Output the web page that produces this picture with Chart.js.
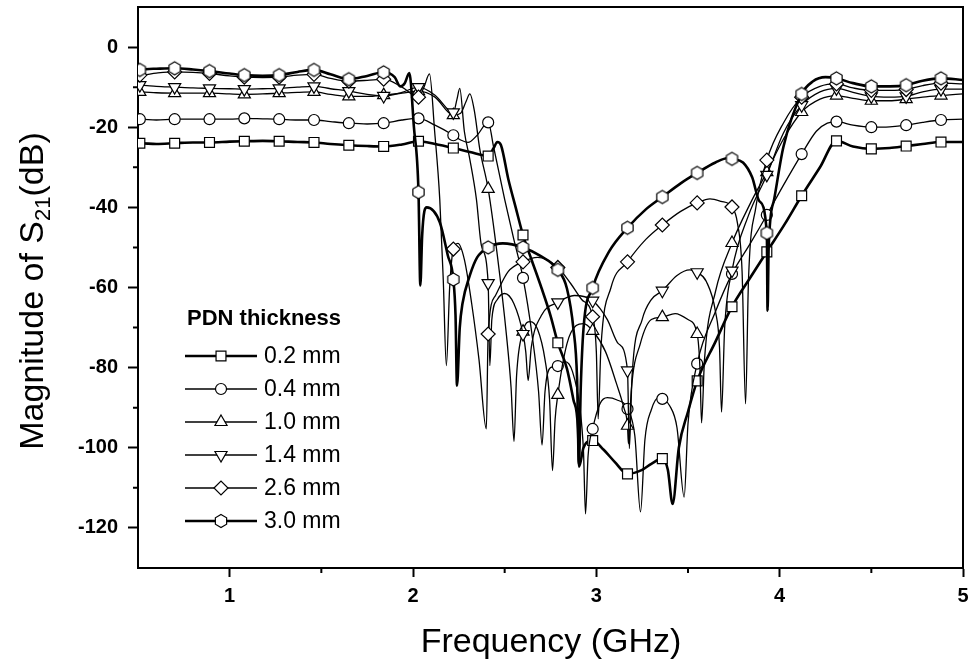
<!DOCTYPE html>
<html>
<head>
<meta charset="utf-8">
<script src="https://cdn.jsdelivr.net/npm/chart.js@4.4.1/dist/chart.umd.min.js"></script>
<style>
html,body{margin:0;padding:0;background:#fff;}
#c{display:block;}
</style>
</head>
<body>
<canvas id="c" width="972" height="669"></canvas>
<script>
// ---------------- data ----------------
const seriesLabels = ['0.2 mm', '0.4 mm', '1.0 mm', '1.4 mm', '2.6 mm', '3.0 mm'];
const legendTitle = 'PDN thickness';
const xTitle = 'Frequency (GHz)';
const yTitleMain = 'Magnitude of S';
const yTitleSub = '21';
const yTitleEnd = '(dB)';
const xTickValues = [1, 2, 3, 4, 5];
const yTickValues = [-120, -100, -80, -60, -40, -20, 0];
const xMinorValues = [1.5, 2.5, 3.5, 4.5];
const yMinorValues = [-110, -90, -70, -50, -30, -10];
// frequencies (GHz) where the symbols sit
const markerFreqs = [0.51, 0.7, 0.89, 1.08, 1.27, 1.46, 1.65, 1.84, 2.03, 2.22, 2.41, 2.6,
  2.79, 2.98, 3.17, 3.36, 3.55, 3.74, 3.93, 4.12, 4.31, 4.5, 4.69, 4.88];

// [frequency GHz, |S21| dB]
const s02 = [[0.5,-24],[0.51,-24],[0.6,-24.2],[0.7,-24],[0.8,-23.8],[0.89,-23.8],[1.0,-23.6],[1.08,-23.5],
  [1.18,-23.4],[1.27,-23.5],[1.37,-23.7],[1.46,-23.8],[1.55,-24.2],[1.65,-24.5],[1.75,-24.7],[1.84,-24.8],
  [1.94,-24.3],[2.03,-23.5],[2.12,-24.2],[2.22,-25.2],[2.31,-26.2],[2.41,-27.2],[2.44,-25.2],[2.46,-23.7],
  [2.48,-24.5],[2.52,-33],[2.56,-40],[2.6,-46.9],[2.65,-53.5],[2.7,-60],[2.75,-67],[2.79,-73.8],[2.84,-80.3],
  [2.875,-88],[2.9,-95.3],[2.906,-104.7],[2.93,-100],[2.98,-98.2],[3.04,-100.5],[3.1,-103.5],[3.17,-106.5],
  [3.25,-105.5],[3.3,-104],[3.36,-102.7],[3.39,-105.5],[3.416,-114],[3.45,-100],[3.5,-91],[3.55,-83.3],
  [3.65,-73.5],[3.74,-64.8],[3.84,-57.5],[3.93,-51.1],[4.03,-44],[4.12,-37.1],[4.22,-30],[4.31,-23.4],
  [4.4,-24.8],[4.5,-25.4],[4.6,-25.2],[4.69,-24.7],[4.78,-24.2],[4.88,-23.7],[5.0,-23.7]];

const s04 = [[0.5,-18],[0.51,-18],[0.6,-18.2],[0.7,-18],[0.8,-18],[0.89,-18],[1.0,-18],[1.08,-17.8],
  [1.18,-17.9],[1.27,-18],[1.37,-18.2],[1.46,-18.2],[1.55,-18.6],[1.65,-19],[1.75,-19.2],[1.84,-19],
  [1.94,-18.2],[2.03,-17.8],[2.12,-19.5],[2.22,-22],[2.26,-23.2],[2.3,-23.8],[2.35,-22],[2.41,-18.8],
  [2.44,-25],[2.5,-38],[2.55,-48],[2.6,-57.6],[2.65,-72],[2.685,-86],[2.704,-99.3],[2.72,-86],[2.75,-80],
  [2.79,-79.6],[2.83,-78.5],[2.87,-81],[2.91,-90],[2.93,-101],[2.941,-116.5],[2.955,-102],[2.98,-95.3],
  [3.02,-89],[3.06,-87.5],[3.11,-88],[3.17,-90.3],[3.21,-97],[3.241,-116],[3.265,-98],[3.3,-90.5],
  [3.34,-87.5],[3.36,-87.8],[3.4,-89.5],[3.44,-95],[3.479,-112.3],[3.5,-94],[3.55,-79],[3.65,-66],
  [3.74,-56.6],[3.84,-49],[3.93,-41.9],[4.02,-34.5],[4.12,-26.7],[4.2,-21],[4.26,-19],[4.31,-18.6],
  [4.4,-19.5],[4.5,-20],[4.6,-19.9],[4.69,-19.5],[4.78,-18.8],[4.88,-18.2],[5.0,-18]];

const s10 = [[0.5,-11.2],[0.51,-11.2],[0.6,-11.4],[0.7,-11.5],[0.8,-11.5],[0.89,-11.5],[1.0,-11.7],[1.08,-11.8],
  [1.18,-11.7],[1.27,-11.5],[1.37,-11.3],[1.46,-11.2],[1.55,-11.8],[1.65,-12.3],[1.75,-12.3],[1.84,-12],
  [1.94,-11.5],[2.03,-11],[2.12,-12.5],[2.22,-17],[2.26,-16.5],[2.29,-13.5],[2.31,-11.7],[2.335,-16],
  [2.364,-25.4],[2.41,-35.4],[2.46,-52],[2.51,-72],[2.535,-85],[2.551,-98.4],[2.565,-82],[2.6,-71],
  [2.64,-68.5],[2.68,-70.5],[2.72,-78],[2.745,-88],[2.761,-105.7],[2.775,-93],[2.79,-86.8],[2.84,-74],
  [2.89,-69.5],[2.93,-69],[2.98,-70.8],[3.05,-76],[3.11,-84],[3.15,-90],[3.17,-94.5],[3.175,-99],
  [3.19,-86],[3.24,-74],[3.3,-68],[3.36,-67.4],[3.43,-66.5],[3.5,-68],[3.55,-71.6],[3.565,-80],
  [3.574,-93.8],[3.59,-78],[3.65,-61],[3.74,-48.9],[3.84,-39],[3.93,-31.2],[4.02,-23],[4.12,-16.2],
  [4.22,-13],[4.31,-12.1],[4.4,-12.8],[4.5,-13.4],[4.6,-13.4],[4.69,-13],[4.78,-12.5],[4.88,-12.1],[5.0,-11.7]];

const s14 = [[0.5,-9.5],[0.51,-9.5],[0.6,-9.8],[0.7,-10],[0.8,-10.2],[0.89,-10.3],[1.0,-10.4],[1.08,-10.5],
  [1.18,-10.4],[1.27,-10.3],[1.37,-10],[1.46,-9.8],[1.55,-10.4],[1.65,-11],[1.75,-11.8],[1.84,-12.2],
  [1.94,-11.3],[2.03,-10],[2.12,-12],[2.22,-16.3],[2.24,-13],[2.255,-10.3],[2.28,-21],[2.31,-28],
  [2.346,-38],[2.373,-49.5],[2.41,-58.9],[2.419,-79.5],[2.43,-68],[2.46,-63],[2.5,-61.5],[2.55,-64],
  [2.6,-71.6],[2.615,-76],[2.628,-83.2],[2.645,-75],[2.7,-67],[2.79,-63.7],[2.88,-62],[2.98,-63.3],
  [3.06,-68],[3.12,-74],[3.17,-80.7],[3.18,-100.2],[3.195,-82],[3.25,-68],[3.3,-63],[3.36,-60.8],
  [3.44,-57],[3.51,-55.6],[3.55,-56.2],[3.6,-58.5],[3.65,-66],[3.672,-75],[3.683,-91.1],[3.7,-70],
  [3.74,-55.8],[3.83,-42],[3.93,-31.9],[4.02,-21.5],[4.12,-14.5],[4.22,-11.2],[4.31,-10.3],[4.4,-11.3],
  [4.5,-12.3],[4.6,-12.5],[4.69,-12.3],[4.78,-11.2],[4.88,-10.5],[5.0,-10.5]];

const s26 = [[0.5,-7],[0.51,-7],[0.6,-6.5],[0.7,-6.2],[0.8,-6.3],[0.89,-6.6],[1.0,-7.2],[1.08,-7.5],
  [1.18,-7.6],[1.27,-7.5],[1.37,-7],[1.46,-6.8],[1.55,-7.8],[1.65,-8.5],[1.75,-8.3],[1.84,-8],
  [1.94,-10],[2.03,-12.5],[2.06,-10],[2.09,-6.7],[2.118,-21],[2.146,-38],[2.165,-58],[2.182,-79.5],
  [2.2,-60],[2.22,-50.4],[2.245,-49],[2.28,-53],[2.32,-64],[2.36,-78],[2.4,-95.3],[2.41,-71.6],
  [2.45,-62],[2.52,-56],[2.6,-53.6],[2.68,-52.5],[2.79,-55],[2.86,-59],[2.92,-63],[2.98,-67.3],
  [3.0,-76],[3.01,-92.8],[3.025,-75],[3.08,-60],[3.17,-53.6],[3.27,-48],[3.36,-44.4],[3.46,-41],
  [3.55,-38.9],[3.62,-37.9],[3.68,-38.5],[3.74,-39.9],[3.77,-44],[3.795,-56],[3.814,-89],[3.83,-58],
  [3.87,-40],[3.93,-28.2],[4.02,-19],[4.12,-12.5],[4.22,-9.8],[4.31,-9.2],[4.4,-10.2],[4.5,-10.8],
  [4.6,-10.8],[4.69,-10.6],[4.78,-9.6],[4.88,-9],[5.0,-9.2]];

const s30 = [[0.5,-6],[0.51,-5.7],[0.6,-5.4],[0.7,-5.3],[0.8,-5.6],[0.89,-6],[1.0,-6.6],[1.08,-7],
  [1.18,-7.2],[1.27,-7],[1.37,-6.2],[1.46,-5.7],[1.55,-6.8],[1.65,-8],[1.75,-7.2],[1.84,-6.3],
  [1.9,-7.5],[1.93,-9.8],[1.955,-9],[1.98,-6.5],[2.005,-20],[2.03,-36.2],[2.04,-59.5],[2.05,-47],
  [2.062,-41],[2.075,-40],[2.146,-43.7],[2.19,-52],[2.22,-58],[2.232,-67],[2.24,-84.5],[2.255,-70],
  [2.27,-64],[2.31,-57],[2.35,-52.5],[2.41,-50],[2.49,-49],[2.6,-50],[2.69,-52],[2.79,-55.6],
  [2.84,-60.3],[2.875,-70.3],[2.895,-82.8],[2.905,-104],[2.915,-85],[2.93,-70.3],[2.98,-60.1],
  [3.07,-51],[3.17,-45.1],[3.27,-40.5],[3.36,-37.4],[3.46,-34],[3.55,-31.4],[3.65,-28.8],[3.72,-27.7],
  [3.74,-27.9],[3.8,-28.8],[3.85,-32.5],[3.89,-38.5],[3.93,-46.4],[3.934,-65.8],[3.94,-50],[3.97,-38],
  [4.02,-25],[4.12,-11.7],[4.18,-8.6],[4.25,-7.5],[4.31,-7.8],[4.4,-9],[4.5,-9.8],[4.6,-9.8],
  [4.69,-9.5],[4.78,-8.4],[4.88,-7.8],[5.0,-8.2]];

const seriesData = [s02, s04, s10, s14, s26, s30];

// ---------------- styles ----------------
const FONT = '"Liberation Sans", Arial, Helvetica, sans-serif';
const seriesStyle = [
  {kind: 'rect',      radius: 7,   width: 2.6},
  {kind: 'circle',    radius: 5.5, width: 1.3},
  {kind: 'triangle',  radius: 7,   width: 1.3},
  {kind: 'triangleD', radius: 7,   width: 1.3},
  {kind: 'rectRot',   radius: 7,   width: 1.3},
  {kind: 'hexagon',   radius: 6.5, width: 2.6}
];

function pathMarker(ctx, kind, x, y, r) {
  ctx.beginPath();
  if (kind === 'rect') {
    const s = r * Math.SQRT2;
    ctx.rect(x - s / 2, y - s / 2, s, s);
  } else if (kind === 'circle') {
    ctx.arc(x, y, r, 0, Math.PI * 2);
  } else if (kind === 'triangle' || kind === 'triangleD') {
    const sgn = kind === 'triangle' ? -1 : 1;
    for (let k = 0; k < 3; k++) {
      const a = Math.PI / 2 * sgn + k * 2 * Math.PI / 3;
      const px = x + Math.cos(a) * r, py = y + Math.sin(a) * r;
      k === 0 ? ctx.moveTo(px, py) : ctx.lineTo(px, py);
    }
    ctx.closePath();
  } else if (kind === 'rectRot') {
    ctx.moveTo(x - r, y); ctx.lineTo(x, y - r); ctx.lineTo(x + r, y); ctx.lineTo(x, y + r); ctx.closePath();
  } else if (kind === 'hexagon') {
    for (let k = 0; k < 6; k++) {
      const a = -Math.PI / 2 + k * Math.PI / 3;
      const px = x + Math.cos(a) * r, py = y + Math.sin(a) * r;
      k === 0 ? ctx.moveTo(px, py) : ctx.lineTo(px, py);
    }
    ctx.closePath();
  }
}
function drawMarker(ctx, kind, x, y, r) {
  pathMarker(ctx, kind, x, y, r);
  ctx.fillStyle = '#fff';
  ctx.fill();
  ctx.lineWidth = 1.2;
  ctx.strokeStyle = '#000';
  ctx.stroke();
}
function markerImage(kind, r) {
  const size = Math.ceil(2 * r + 4);
  const cv = document.createElement('canvas');
  cv.width = size; cv.height = size;
  drawMarker(cv.getContext('2d'), kind, size / 2, size / 2, r);
  return cv;
}
const isMarker = f => markerFreqs.some(m => Math.abs(m - f) < 1e-6);

function pointStyleFor(st) {
  if (st.kind === 'triangleD') return 'triangle';
  if (st.kind === 'hexagon') return markerImage('hexagon', st.radius);
  return st.kind;
}

const datasets = seriesData.map((d, i) => {
  const st = seriesStyle[i];
  return {
    label: seriesLabels[i],
    data: d.map(p => ({x: p[0], y: p[1]})),
    borderColor: '#000',
    borderWidth: st.width,
    fill: false,
    cubicInterpolationMode: 'monotone',
    pointStyle: pointStyleFor(st),
    pointRotation: st.kind === 'triangleD' ? 180 : 0,
    pointRadius: ctx => (ctx.raw && isMarker(ctx.raw.x)) ? st.radius : 0,
    pointHoverRadius: 0,
    pointBackgroundColor: '#fff',
    pointBorderColor: '#000',
    pointBorderWidth: 1.2,
    order: 6 - i
  };
});

// ---------------- decorations: frame, minor ticks, titles, legend ----------------
const decor = {
  id: 'decor',
  afterDraw(chart) {
    const {ctx, chartArea: a, scales: {x, y}} = chart;
    ctx.save();
    ctx.strokeStyle = '#000';
    ctx.lineWidth = 2;
    ctx.beginPath();
    ctx.moveTo(a.left - 1, a.top);
    ctx.lineTo(a.right, a.top);
    ctx.lineTo(a.right, a.bottom + 1);
    ctx.stroke();
    ctx.beginPath();
    xMinorValues.forEach(v => { const px = x.getPixelForValue(v); ctx.moveTo(px, a.bottom); ctx.lineTo(px, a.bottom + 5); });
    yMinorValues.forEach(v => { const py = y.getPixelForValue(v); ctx.moveTo(a.left, py); ctx.lineTo(a.left - 5, py); });
    ctx.stroke();

    // x title
    ctx.fillStyle = '#000';
    ctx.font = '34px ' + FONT;
    ctx.textAlign = 'center';
    ctx.textBaseline = 'alphabetic';
    ctx.fillText(xTitle, 551, 652);

    // y title (rotated, with subscript)
    ctx.save();
    ctx.translate(43, 291);
    ctx.rotate(-Math.PI / 2);
    ctx.textAlign = 'left';
    ctx.font = '34px ' + FONT;
    const w1 = ctx.measureText(yTitleMain).width;
    const w3 = ctx.measureText(yTitleEnd).width;
    ctx.font = '22px ' + FONT;
    const w2 = ctx.measureText(yTitleSub).width;
    let sx = -(w1 + w2 + w3) / 2;
    ctx.font = '34px ' + FONT;
    ctx.fillText(yTitleMain, sx, 0);
    sx += w1;
    ctx.font = '22px ' + FONT;
    ctx.fillText(yTitleSub, sx, 7);
    sx += w2;
    ctx.font = '34px ' + FONT;
    ctx.fillText(yTitleEnd, sx, 0);
    ctx.restore();

    // legend
    ctx.textAlign = 'left';
    ctx.textBaseline = 'middle';
    ctx.font = 'bold 22px ' + FONT;
    ctx.fillText(legendTitle, 187, 319);
    ctx.font = '23px ' + FONT;
    seriesLabels.forEach((lab, i) => {
      const st = seriesStyle[i];
      const ly = 356 + 33 * i;
      ctx.beginPath();
      ctx.lineWidth = st.width;
      ctx.strokeStyle = '#000';
      ctx.moveTo(185, ly); ctx.lineTo(257, ly);
      ctx.stroke();
      drawMarker(ctx, st.kind, 221, ly, st.radius);
      ctx.fillStyle = '#000';
      ctx.fillText(lab, 264, ly + 1);
    });
    ctx.restore();
  }
};

const axisCommon = {
  grid: {drawOnChartArea: false, drawTicks: true, tickWidth: 2, tickColor: '#000'},
  border: {display: true, color: '#000', width: 2}
};

new Chart(document.getElementById('c'), {
  type: 'line',
  data: {datasets},
  options: {
    responsive: false,
    animation: false,
    devicePixelRatio: 1,
    events: [],
    layout: {padding: {top: 7, right: 9, left: 0, bottom: 0}},
    plugins: {legend: {display: false}, tooltip: {enabled: false}},
    scales: {
      x: {
        type: 'linear', min: 0.5, max: 5,
        afterBuildTicks: s => { s.ticks = xTickValues.map(v => ({value: v})); },
        afterFit: s => { s.height = 101; s.paddingLeft = 0; s.paddingRight = 0; },
        ticks: {font: {family: FONT, size: 20, weight: 'bold'}, color: '#000', padding: 7,
                autoSkip: false, maxRotation: 0, callback: v => String(v)},
        grid: {...axisCommon.grid, tickLength: 9},
        border: axisCommon.border
      },
      y: {
        type: 'linear', min: -130, max: 10,
        afterBuildTicks: s => { s.ticks = yTickValues.map(v => ({value: v})); },
        afterFit: s => { s.width = 138; s.paddingTop = 0; s.paddingBottom = 0; },
        ticks: {font: {family: FONT, size: 20, weight: 'bold'}, color: '#000', padding: 10,
                autoSkip: false, callback: v => String(v)},
        grid: {...axisCommon.grid, tickLength: 10},
        border: axisCommon.border
      }
    }
  },
  plugins: [decor]
});
</script>
</body>
</html>
